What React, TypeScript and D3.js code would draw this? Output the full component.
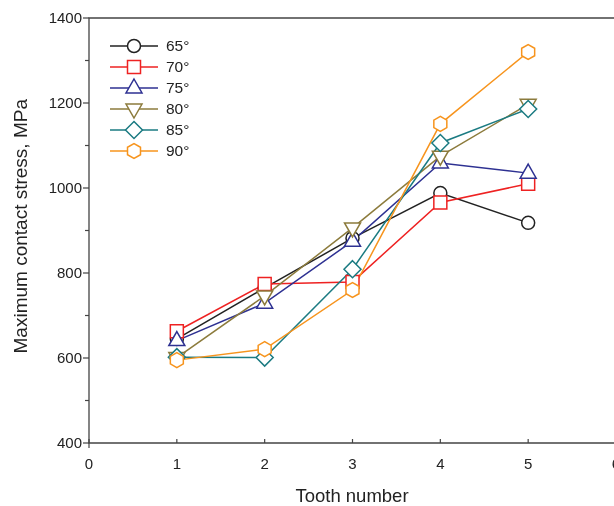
import { useRef, useEffect } from "react";
import * as d3 from "d3";

const teeth = [1, 2, 3, 4, 5];
const labels = ["65°", "70°", "75°", "80°", "85°", "90°"];
const colors = ["#222222", "#ee2222", "#2e3192", "#8c7b3c", "#1b7b82", "#f7941d"];
const shapes = ["circle", "square", "triangle", "triangleDown", "diamond", "hexagon"];

const s65 = [645, 765, 882, 988, 918];
const s70 = [663, 774, 779, 966, 1010];
const s75 = [641, 729, 875, 1059, 1035];
const s80 = [601, 746, 906, 1075, 1197];
const s85 = [602, 601, 809, 1106, 1186];
const s90 = [595, 621, 760, 1151, 1320];
const series = [s65, s70, s75, s80, s85, s90];

const xTicks = [0, 1, 2, 3, 4, 5, 6];
const yTicks = [400, 600, 800, 1000, 1200, 1400];
const yMinor = [500, 700, 900, 1100, 1300];

function markerPath(kind: string): string {
  const p = d3.path();
  if (kind === "circle") {
    p.arc(0, 0, 6.5, 0, Math.PI * 2);
  } else if (kind === "square") {
    p.rect(-6.5, -6.5, 13, 13);
  } else if (kind === "triangle") {
    p.moveTo(0, -9); p.lineTo(8, 5); p.lineTo(-8, 5); p.closePath();
  } else if (kind === "triangleDown") {
    p.moveTo(0, 9); p.lineTo(8, -5); p.lineTo(-8, -5); p.closePath();
  } else if (kind === "diamond") {
    p.moveTo(0, -8.5); p.lineTo(8.5, 0); p.lineTo(0, 8.5); p.lineTo(-8.5, 0); p.closePath();
  } else {
    const r = 7.5;
    for (let i = 0; i < 6; i++) {
      const a = (Math.PI / 3) * i + Math.PI / 6;
      const x = r * Math.cos(a), y = r * Math.sin(a);
      if (i === 0) p.moveTo(x, y); else p.lineTo(x, y);
    }
    p.closePath();
  }
  return p.toString();
}

export default function App() {
  const ref = useRef<SVGSVGElement>(null);

  useEffect(() => {
    if (!ref.current) return;
    const W = 614, H = 506;
    const svg = d3.select(ref.current);
    svg.selectAll("*").remove();
    svg.attr("width", W).attr("height", H);
    const font = "'Liberation Sans', Arial, sans-serif";

    const x = d3.scaleLinear().domain([0, 6]).range([89, 616]);
    const y = d3.scaleLinear().domain([400, 1400]).range([443, 18]);

    // frame
    svg.append("path")
      .attr("d", `M${x(0)},${y(400)}V${y(1400)}H${x(6)}V${y(400)}Z`)
      .attr("fill", "none").attr("stroke", "#444").attr("stroke-width", 1.3);

    // y ticks
    const gy = svg.append("g");
    yTicks.forEach((v) => {
      gy.append("line").attr("x1", x(0) - 6).attr("x2", x(0)).attr("y1", y(v)).attr("y2", y(v))
        .attr("stroke", "#444").attr("stroke-width", 1.2);
      gy.append("text").attr("x", x(0) - 7).attr("y", y(v)).attr("dy", "0.35em")
        .attr("text-anchor", "end").attr("font-family", font).attr("font-size", 15).attr("fill", "#222")
        .text(v);
    });
    yMinor.forEach((v) => {
      gy.append("line").attr("x1", x(0) - 4).attr("x2", x(0)).attr("y1", y(v)).attr("y2", y(v))
        .attr("stroke", "#444").attr("stroke-width", 1.2);
    });

    // x ticks
    const gx = svg.append("g");
    xTicks.forEach((v) => {
      gx.append("line").attr("x1", x(v)).attr("x2", x(v)).attr("y1", y(400) - 4).attr("y2", y(400) + (v === 0 ? 5 : 0))
        .attr("stroke", "#444").attr("stroke-width", 1.2);
      gx.append("text").attr("x", x(v)).attr("y", y(400) + 21).attr("dy", "0.35em")
        .attr("text-anchor", "middle").attr("font-family", font).attr("font-size", 15).attr("fill", "#222")
        .text(v);
    });

    // axis titles
    svg.append("text").attr("x", 352).attr("y", 502).attr("text-anchor", "middle")
      .attr("font-family", font).attr("font-size", 18.5).attr("fill", "#222").text("Tooth number");
    svg.append("text").attr("transform", `translate(27,${y(910)}) rotate(-90)`).attr("text-anchor", "middle")
      .attr("font-family", font).attr("font-size", 19).attr("fill", "#222").text("Maximum contact stress, MPa");

    const line = d3.line<number>().x((_, i) => x(teeth[i])).y((d) => y(d));

    series.forEach((s, k) => {
      svg.append("path").datum(s).attr("d", line).attr("fill", "none")
        .attr("stroke", colors[k]).attr("stroke-width", 1.5);
    });
    series.forEach((s, k) => {
      svg.append("g").selectAll("path").data(s).join("path")
        .attr("transform", (d, i) => `translate(${x(teeth[i])},${y(d)})`)
        .attr("d", markerPath(shapes[k]))
        .attr("fill", "white").attr("stroke", colors[k]).attr("stroke-width", 1.5);
    });

    // legend
    const lg = svg.append("g");
    labels.forEach((lab, k) => {
      const ly = 46 + k * 21;
      lg.append("line").attr("x1", 110).attr("x2", 158).attr("y1", ly).attr("y2", ly)
        .attr("stroke", colors[k]).attr("stroke-width", 1.5);
      lg.append("path").attr("transform", `translate(134,${ly})`).attr("d", markerPath(shapes[k]))
        .attr("fill", "white").attr("stroke", colors[k]).attr("stroke-width", 1.5);
      lg.append("text").attr("x", 166).attr("y", ly).attr("dy", "0.35em")
        .attr("font-family", font).attr("font-size", 15.5).attr("fill", "#222").text(lab);
    });
  }, []);

  return (
    <div style={{ position: "fixed", left: 0, top: 0 }}>
      <svg ref={ref} style={{ display: "block" }} />
    </div>
  );
}
